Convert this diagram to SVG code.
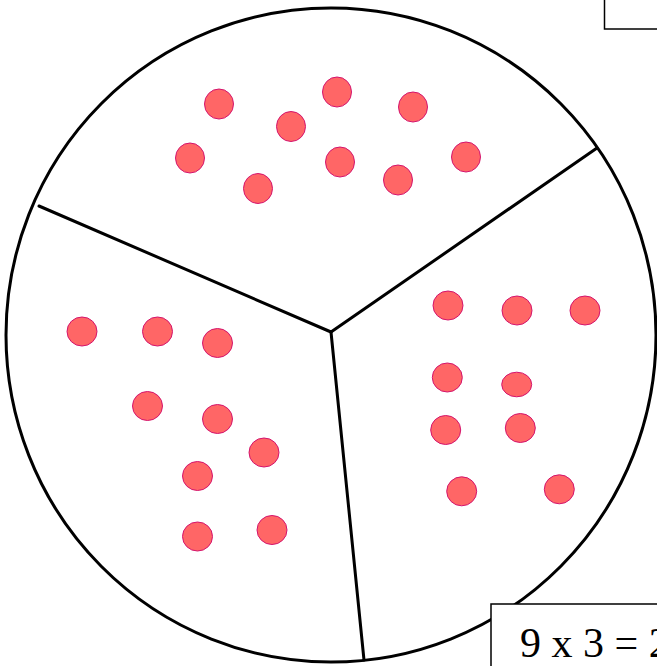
<svg xmlns="http://www.w3.org/2000/svg" width="657" height="666" viewBox="0 0 657 666">
<style>
.dot{fill:#ff6666;stroke:#d4146e;stroke-width:1}
.ln{fill:none;stroke:#000;stroke-width:3;stroke-linecap:round}
.box{fill:#fff;stroke:#000;stroke-width:1.5}
.t{font-family:"Liberation Serif","Times New Roman",serif;font-size:42px;fill:#000}
</style>
<rect width="657" height="666" fill="#fff"/>
<g id="topbox"><rect class="box" x="604.5" y="-5" width="60" height="34"/></g>
<g id="pie">
<ellipse class="ln" cx="331" cy="335" rx="325" ry="327"/>
</g>
<g id="connectors">
<line class="ln" x1="331" y1="332" x2="39" y2="206"/>
<line class="ln" x1="331" y1="332" x2="597" y2="148"/>
<line class="ln" x1="331" y1="332" x2="364" y2="660"/>
</g>
<g id="group-top">
<ellipse class="dot" cx="219" cy="104" rx="14.5" ry="15"/>
<ellipse class="dot" cx="337" cy="92" rx="14.5" ry="15"/>
<ellipse class="dot" cx="413" cy="107" rx="14.5" ry="15"/>
<ellipse class="dot" cx="291" cy="126.5" rx="14.5" ry="15"/>
<ellipse class="dot" cx="190" cy="158" rx="14.5" ry="15"/>
<ellipse class="dot" cx="340" cy="162" rx="14.5" ry="15"/>
<ellipse class="dot" cx="466" cy="157" rx="14.5" ry="15"/>
<ellipse class="dot" cx="258" cy="188.5" rx="14.5" ry="15"/>
<ellipse class="dot" cx="398" cy="180" rx="14.5" ry="15"/>
</g>
<g id="group-left">
<ellipse class="dot" cx="82" cy="331.5" rx="15" ry="14.5"/>
<ellipse class="dot" cx="157.5" cy="331.5" rx="15" ry="14.5"/>
<ellipse class="dot" cx="217.5" cy="343" rx="15" ry="14.5"/>
<ellipse class="dot" cx="147.5" cy="406" rx="15" ry="14.5"/>
<ellipse class="dot" cx="217.5" cy="419" rx="15" ry="14.5"/>
<ellipse class="dot" cx="264" cy="452.5" rx="15" ry="14.5"/>
<ellipse class="dot" cx="197.5" cy="476" rx="15" ry="14.5"/>
<ellipse class="dot" cx="197.5" cy="536.5" rx="15" ry="14.5"/>
<ellipse class="dot" cx="272" cy="530" rx="15" ry="14.5"/>
</g>
<g id="group-right">
<ellipse class="dot" cx="448" cy="305.5" rx="15" ry="14.5"/>
<ellipse class="dot" cx="517" cy="310.5" rx="15" ry="14.5"/>
<ellipse class="dot" cx="585" cy="310.5" rx="15" ry="14.5"/>
<ellipse class="dot" cx="447.3" cy="377.5" rx="15" ry="14.5"/>
<ellipse class="dot" cx="516.7" cy="384.5" rx="15" ry="12.3"/>
<ellipse class="dot" cx="445.7" cy="430" rx="15" ry="14.5"/>
<ellipse class="dot" cx="520.3" cy="428" rx="15" ry="14.5"/>
<ellipse class="dot" cx="461.7" cy="491.3" rx="15" ry="14.5"/>
<ellipse class="dot" cx="559.3" cy="489.3" rx="15" ry="14.5"/>
</g>
<g id="answerbox">
<rect class="box" x="491" y="604" width="180" height="80"/>
<text class="t" x="520" y="657">9 x 3 = 2</text>
</g>
</svg>
